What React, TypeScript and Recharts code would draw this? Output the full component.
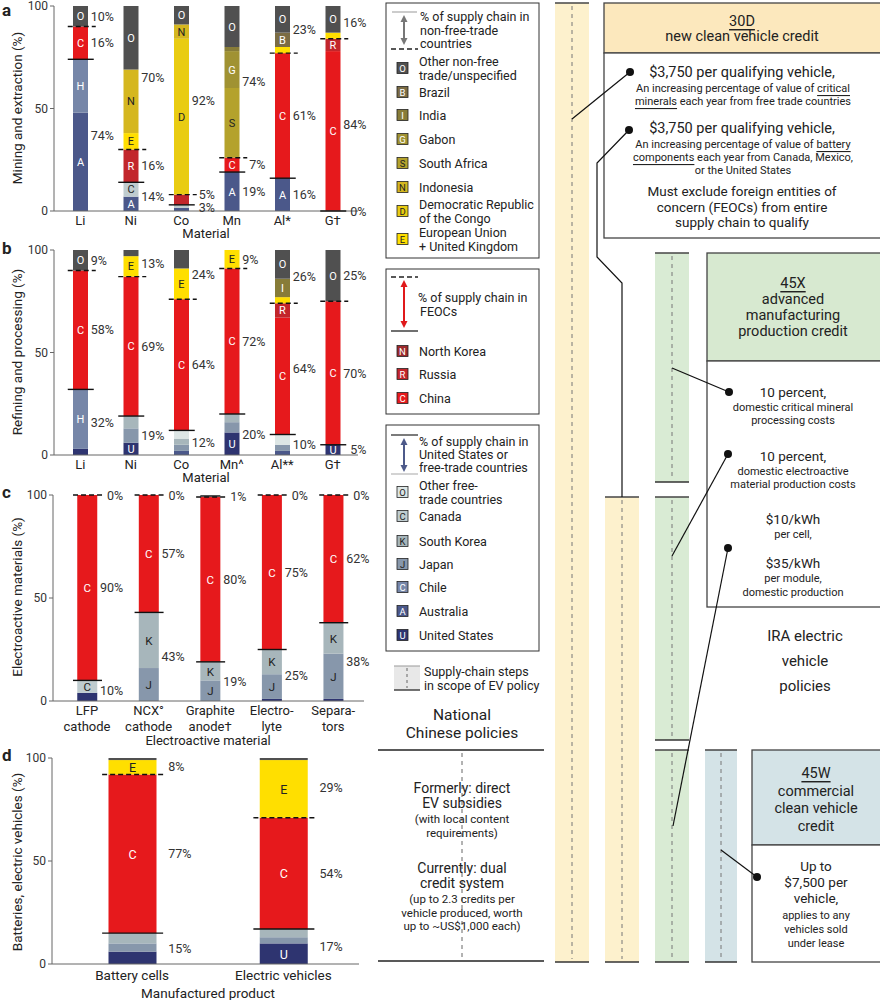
import React from 'react';
import { ComposedChart, Bar, Line, XAxis, YAxis } from 'recharts';

const FONT = "Roboto, 'Liberation Sans', Arial, sans-serif";

// ---------------- Data: panel a (mining and extraction) ----------------
const aCats = ['Li', 'Ni', 'Co', 'Mn', 'Al*', 'G†'];
const aAustralia = [48, 7, 1.5, 19, 16, 0];
const aChile = [26, 0, 0, 0, 0, 0];
const aCanada = [0, 7, 1.5, 0, 0, 0];
const aChina = [16, 0, 0, 7, 61, 78];
const aRussia = [0, 16, 5, 0, 0, 6];
const aEU = [0, 8, 0, 0, 3, 3];
const aDRC = [0, 0, 76, 0, 0, 0];
const aIndonesia = [0, 31, 7, 0, 0, 0];
const aSouthAfrica = [0, 0, 0, 34, 0, 0];
const aGabon = [0, 0, 0, 18, 0, 0];
const aIndia = [0, 0, 0, 2, 0, 0];
const aBrazil = [0, 0, 0, 0, 7, 0];
const aOther = [10, 31, 9, 20, 13, 13];
const aFreeLbl = ['74%', '14%', '3%', '19%', '16%', '0%'];
const aFeocLbl = ['16%', '16%', '5%', '7%', '61%', '84%'];
const aNonLbl = ['10%', '70%', '92%', '74%', '23%', '16%'];

// ---------------- Data: panel b (refining and processing) ----------------
const bCats = ['Li', 'Ni', 'Co', 'Mn^', 'Al**', 'G†'];
const bUS = [3, 6, 0, 11, 0, 5];
const bAustralia = [0, 0, 2, 0, 2, 0];
const bChile = [29, 0, 0, 0, 0, 0];
const bJapan = [0, 7, 3, 5, 3, 0];
const bKorea = [0, 6, 3, 4, 0, 0];
const bOtherFree = [0, 0, 4, 0, 5, 0];
const bChina = [58, 68, 64, 71, 57, 70];
const bRussia = [0, 0, 0, 0, 7, 0];
const bEU = [0, 10, 15, 9, 3, 0];
const bIndia = [0, 0, 0, 0, 9, 0];
const bOther = [10, 3, 9, 0, 14, 25];
const bFreeLbl = ['32%', '19%', '12%', '20%', '10%', '5%'];
const bFeocLbl = ['58%', '69%', '64%', '72%', '64%', '70%'];
const bNonLbl = ['9%', '13%', '24%', '9%', '26%', '25%'];

// ---------------- Data: panel c (electroactive materials) ----------------
const cCats = ['LFP\ncathode', 'NCX°\ncathode', 'Graphite\nanode†', 'Electro-\nlyte', 'Separa-\ntors'];
const cUS = [4, 0, 0, 1, 1];
const cJapan = [0, 16, 10, 12, 22];
const cKorea = [0, 27, 9, 12, 15];
const cCanada = [6, 0, 0, 0, 0];
const cChina = [90, 57, 80, 75, 62];
const cOther = [0, 0, 1, 0, 0];
const cFreeLbl = ['10%', '43%', '19%', '25%', '38%'];
const cFeocLbl = ['90%', '57%', '80%', '75%', '62%'];
const cNonLbl = ['0%', '0%', '1%', '0%', '0%'];

// ---------------- Data: panel d (batteries, electric vehicles) ----------------
const dCats = ['Battery cells', 'Electric vehicles'];
const dUS = [6, 10];
const dJapan = [4, 3];
const dKorea = [5, 4];
const dChina = [77, 54];
const dEU = [7, 28];
const dOther = [1, 1];
const dFreeLbl = ['15%', '17%'];
const dFeocLbl = ['77%', '54%'];
const dNonLbl = ['8%', '29%'];

// ---------------- Series meta ----------------
const FREE_KEYS = ['U', 'A', 'H', 'J', 'K', 'CA', 'OF'];
const FEOC_KEYS = ['C', 'R', 'NK'];
const NON_KEYS = ['E', 'D', 'N', 'S', 'G', 'I', 'B', 'O'];
const STACK_ORDER = [...FREE_KEYS, ...FEOC_KEYS, ...NON_KEYS];

const COLORS: Record<string, string> = {
  U: '#2e3470', A: '#4b588a', H: '#7686a8', J: '#8797ab', K: '#a7b6bb', CA: '#bfcccf', OF: '#dde6e5',
  C: '#e6191c', R: '#c2262b', NK: '#9c2a2c',
  E: '#ffdf00', D: '#e9cc12', N: '#d5b71f', S: '#b4a22c', G: '#a09232', I: '#877c38', B: '#7b6c44', O: '#505050',
};
const LETTERS: Record<string, string> = {
  U: 'U', A: 'A', H: 'H', J: 'J', K: 'K', CA: 'C', OF: 'O', C: 'C', R: 'R', NK: 'N',
  E: 'E', D: 'D', N: 'N', S: 'S', G: 'G', I: 'I', B: 'B', O: 'O',
};
const DARK_TEXT = ['J', 'K', 'CA', 'OF', 'E', 'D', 'N', 'S'];
const HIDDEN_LETTERS = ['a:Co:R', 'b:Ni:J', 'b:Ni:K', 'b:Co:O', 'b:Mn^:J', 'b:Al**:OF', 'd:Battery cells:U', 'd:Battery cells:K'];

function buildRows(cats: string[], series: Record<string, number[]>, free: string[], feoc: string[], non: string[]) {
  return cats.map((name, i) => {
    const row: any = { name };
    Object.keys(series).forEach((k) => { row[k] = series[k][i]; });
    const sum = (keys: string[]) => keys.reduce((s, k) => s + (row[k] || 0), 0);
    const f = sum(FREE_KEYS);
    const c = sum(FEOC_KEYS);
    row.freeTop = f;
    row.feocTop = f + c;
    row.freeMid = f / 2;
    row.feocMid = f < 8 && c < 8 ? f + c : f + c / 2;
    row.nonMid = (f + c + 100) / 2;
    row.freePct = f;
    row.feocPct = c;
    row.nonPct = 100 - f - c;
    row.freeLbl = free[i];
    row.feocLbl = feoc[i];
    row.nonLbl = non[i];
    return row;
  });
}

const aRows = buildRows(aCats, {
  A: aAustralia, H: aChile, CA: aCanada, C: aChina, R: aRussia, E: aEU, D: aDRC,
  N: aIndonesia, S: aSouthAfrica, G: aGabon, I: aIndia, B: aBrazil, O: aOther,
}, aFreeLbl, aFeocLbl, aNonLbl);
const bRows = buildRows(bCats, {
  U: bUS, A: bAustralia, H: bChile, J: bJapan, K: bKorea, OF: bOtherFree, C: bChina, R: bRussia,
  E: bEU, I: bIndia, O: bOther,
}, bFreeLbl, bFeocLbl, bNonLbl);
const cRows = buildRows(cCats, {
  U: cUS, J: cJapan, K: cKorea, CA: cCanada, C: cChina, O: cOther,
}, cFreeLbl, cFeocLbl, cNonLbl);
const dRows = buildRows(dCats, {
  U: dUS, J: dJapan, K: dKorea, C: dChina, E: dEU, O: dOther,
}, dFreeLbl, dFeocLbl, dNonLbl);

const keysOf = (rows: any[]) => STACK_ORDER.filter((k) => rows.some((r) => r[k] !== undefined));

// ---------------- Panel chart ----------------
type PanelProps = {
  id: string; rows: any[]; top: number; marginTop: number; plotH: number; xAxisH: number;
  width: number; marginRight: number; yAxisW: number; padLeft: number; barSize: number; lblGap: number;
  tickFont: number; tickFirst: number; tickLH: number; letterFont: number; lineExt: number;
};

function Panel(p: PanelProps) {
  const half = p.barSize / 2;
  const height = p.marginTop + p.plotH + p.xAxisH;
  const keys = keysOf(p.rows);

  const shape = (key: string) => (sp: any) => {
    const { x, y, width, height: h, payload } = sp;
    if (!h || h <= 0) return <g />;
    const v = payload[key] || 0;
    const show = v >= 5 && !HIDDEN_LETTERS.includes(`${p.id}:${payload.name}:${key}`);
    return (
      <g>
        <rect x={x} y={y} width={width} height={h} fill={COLORS[key]} />
        {show && (
          <text x={x + width / 2} y={y + h / 2 + 0.5} textAnchor="middle" dominantBaseline="central"
            fontSize={p.letterFont} fontFamily={FONT} fill={DARK_TEXT.includes(key) ? '#222' : '#fff'}>
            {LETTERS[key]}
          </text>
        )}
      </g>
    );
  };

  const solid = (sp: any) => (
    <line key={`s${sp.index}`} x1={sp.cx - half - p.lineExt} x2={sp.cx + half + p.lineExt + 1} y1={sp.cy} y2={sp.cy}
      stroke="#111" strokeWidth={1.4} />
  );
  const dashed = (sp: any) => (
    <line key={`d${sp.index}`} x1={sp.cx - half - p.lineExt} x2={sp.cx + half + p.lineExt + 3} y1={sp.cy} y2={sp.cy}
      stroke="#111" strokeWidth={1.4} strokeDasharray="5 3" />
  );
  const label = (field: string, pctField: string) => (sp: any) => {
    const pct = sp.payload[pctField];
    const shift = p.id !== 'd' && pct < 8 ? 7 : 0;
    return (
      <text key={`${field}${sp.index}`} x={sp.cx + half + p.lblGap + shift} y={sp.cy} fontSize={12.5}
        fill="#333" dominantBaseline="central" fontFamily={FONT}>
        {sp.payload[field]}
      </text>
    );
  };

  const tick = (tp: any) => {
    const lines = String(tp.payload.value).split('\n');
    return (
      <g>
        {lines.map((l: string, i: number) => (
          <text key={i} x={tp.x} y={tp.y + p.tickFirst + i * p.tickLH} textAnchor="middle" dominantBaseline="central"
            fontSize={p.tickFont} fill="#222" fontFamily={FONT}>{l}</text>
        ))}
      </g>
    );
  };

  const lineCommon = { stroke: 'none', isAnimationActive: false, activeDot: false, legendType: 'none' as const };

  return (
    <div style={{ position: 'absolute', left: 0, top: p.top }}>
      <ComposedChart width={p.width} height={height} data={p.rows} style={{ overflow: 'visible' }}
        margin={{ top: p.marginTop, right: p.marginRight, bottom: 0, left: 0 }}>
        <XAxis dataKey="name" type="category" height={p.xAxisH} tickLine={false} tickSize={0} tickMargin={0}
          axisLine={{ stroke: '#666' }} interval={0} padding={{ left: p.padLeft, right: 0 }} tick={tick} />
        <YAxis type="number" domain={[0, 100]} ticks={[0, 50, 100]} width={p.yAxisW} tickSize={4} tickMargin={2}
          axisLine={{ stroke: '#666' }} tickLine={{ stroke: '#666' }} interval={0}
          tick={{ fontSize: 12, fill: '#333', fontFamily: FONT }} />
        {keys.map((k) => (
          <Bar key={k} dataKey={k} stackId="s" barSize={p.barSize} isAnimationActive={false} shape={shape(k)} />
        ))}
        <Line dataKey="freeTop" {...lineCommon} dot={solid} />
        <Line dataKey="feocTop" {...lineCommon} dot={dashed} />
        <Line dataKey="freeMid" {...lineCommon} dot={label('freeLbl', 'freePct')} />
        <Line dataKey="feocMid" {...lineCommon} dot={label('feocLbl', 'feocPct')} />
        <Line dataKey="nonMid" {...lineCommon} dot={label('nonLbl', 'nonPct')} />
      </ComposedChart>
    </div>
  );
}

// ---------------- Legend data ----------------
const leg1Keys = ['O', 'B', 'I', 'G', 'S', 'N', 'D', 'E'];
const leg1Text = [['Other non-free', 'trade/unspecified'], ['Brazil'], ['India'], ['Gabon'], ['South Africa'],
  ['Indonesia'], ['Democratic Republic', 'of the Congo'], ['European Union', '+ United Kingdom']];
const leg2Keys = ['NK', 'R', 'C'];
const leg2Text = [['North Korea'], ['Russia'], ['China']];
const leg3Keys = ['OF', 'CA', 'K', 'J', 'H', 'A', 'U'];
const leg3Text = [['Other free-', 'trade countries'], ['Canada'], ['South Korea'], ['Japan'], ['Chile'],
  ['Australia'], ['United States']];

// ---------------- Overlay helpers ----------------
function Txt({ x, y, s = 12.5, a = 'middle', w, fill = '#222', children }: any) {
  return (
    <text x={x} y={y} fontSize={s} textAnchor={a} dominantBaseline="central" fontFamily={FONT}
      fontWeight={w} fill={fill}>{children}</text>
  );
}

function Swatch({ x, y, k }: any) {
  const letter = k === 'H' ? 'C' : LETTERS[k];
  return (
    <g>
      <rect x={x} y={y - 5.5} width={11} height={11} fill={COLORS[k]} stroke="#222" strokeWidth={0.8} />
      <text x={x + 5.5} y={y + 0.5} fontSize={9.5} textAnchor="middle" dominantBaseline="central" fontFamily={FONT}
        fill={DARK_TEXT.includes(k) ? '#222' : '#fff'}>{letter}</text>
    </g>
  );
}

function LegendRows({ keys, texts, ys }: any) {
  return (
    <g>
      {keys.map((k: string, i: number) => {
        const lines = texts[i];
        const y = ys[i];
        return (
          <g key={k + i}>
            <Swatch x={397} y={y} k={k} />
            {lines.map((l: string, j: number) => (
              <Txt key={j} x={419} y={lines.length === 1 ? y : y - 7 + j * 14} a="start" s={12.5}>{l}</Txt>
            ))}
          </g>
        );
      })}
    </g>
  );
}

function Arrow({ x, y1, y2, color }: any) {
  return (
    <g>
      <line x1={x} x2={x} y1={y1 + 5} y2={y2 - 5} stroke={color} strokeWidth={2} />
      <polygon points={`${x - 3.5},${y1 + 7} ${x + 3.5},${y1 + 7} ${x},${y1}`} fill={color} />
      <polygon points={`${x - 3.5},${y2 - 7} ${x + 3.5},${y2 - 7} ${x},${y2}`} fill={color} />
    </g>
  );
}

function Band({ x, y1, y2, fill, w = 34 }: any) {
  return (
    <g>
      <rect x={x} y={y1} width={w} height={y2 - y1} fill={fill} />
      <line x1={x + w / 2} x2={x + w / 2} y1={y1 + 3} y2={y2 - 3} stroke="#777" strokeDasharray="4 4" strokeWidth={1} />
      <line x1={x} x2={x + w} y1={y1} y2={y1} stroke="#444" strokeWidth={1.5} />
      <line x1={x} x2={x + w} y1={y2} y2={y2} stroke="#333" strokeWidth={1.5} />
    </g>
  );
}

function Dot({ x, y }: any) {
  return <circle cx={x} cy={y} r={4} fill="#111" />;
}

const U = ({ children }: any) => <tspan style={{ textDecoration: 'underline' }}>{children}</tspan>;

function Overlay() {
  return (
    <svg width={880} height={1000} style={{ position: 'absolute', left: 0, top: 0 }}>
      {/* panel letters */}
      <Txt x={2} y={10} s={17} a="start" w={700}>a</Txt>
      <Txt x={2} y={248} s={17} a="start" w={700}>b</Txt>
      <Txt x={2} y={492} s={17} a="start" w={700}>c</Txt>
      <Txt x={2} y={755} s={17} a="start" w={700}>d</Txt>

      {/* axis titles */}
      <text transform="translate(17,108) rotate(-90)" fontSize={13.5} textAnchor="middle" dominantBaseline="central" fontFamily={FONT} fill="#222">Mining and extraction (%)</text>
      <text transform="translate(17,352) rotate(-90)" fontSize={13.5} textAnchor="middle" dominantBaseline="central" fontFamily={FONT} fill="#222">Refining and processing (%)</text>
      <text transform="translate(17,597) rotate(-90)" fontSize={13.5} textAnchor="middle" dominantBaseline="central" fontFamily={FONT} fill="#222">Electroactive materials (%)</text>
      <text transform="translate(17,862) rotate(-90)" fontSize={13.5} textAnchor="middle" dominantBaseline="central" fontFamily={FONT} fill="#222">Batteries, electric vehicles (%)</text>
      <Txt x={206} y={233} s={13}>Material</Txt>
      <Txt x={206} y={477} s={13}>Material</Txt>
      <Txt x={208} y={740} s={13}>Electroactive material</Txt>
      <Txt x={208} y={993} s={13.5}>Manufactured product</Txt>

      {/* legend box 1 */}
      <rect x={386} y={3} width={153} height={255} fill="#fff" stroke="#333" strokeWidth={1} />
      <line x1={392} x2={417} y1={12} y2={12} stroke="#999" strokeWidth={1} />
      <Arrow x={404} y1={15} y2={45} color="#777" />
      <line x1={391} x2={418} y1={49} y2={49} stroke="#222" strokeWidth={1.3} strokeDasharray="5 3" />
      <Txt x={420} y={16} a="start">% of supply chain in</Txt>
      <Txt x={420} y={30} a="start">non-free-trade</Txt>
      <Txt x={420} y={43} a="start">countries</Txt>
      <LegendRows keys={leg1Keys} texts={leg1Text} ys={[68, 92, 115, 139, 163, 187, 211, 239]} />

      {/* legend box 2 */}
      <rect x={386} y={269} width={153} height={145} fill="#fff" stroke="#333" strokeWidth={1} />
      <line x1={391} x2={418} y1={277} y2={277} stroke="#222" strokeWidth={1.3} strokeDasharray="5 3" />
      <Arrow x={404} y1={280} y2={328} color="#e0191b" />
      <line x1={391} x2={418} y1={331} y2={331} stroke="#222" strokeWidth={1.3} />
      <Txt x={418} y={297} a="start">% of supply chain in</Txt>
      <Txt x={420} y={311} a="start">FEOCs</Txt>
      <LegendRows keys={leg2Keys} texts={leg2Text} ys={[351, 374, 398]} />

      {/* legend box 3 */}
      <rect x={386} y={425} width={153} height={226} fill="#fff" stroke="#333" strokeWidth={1} />
      <line x1={391} x2={418} y1={435} y2={435} stroke="#333" strokeWidth={1.3} />
      <Arrow x={404} y1={438} y2={472} color="#4d5a8a" />
      <line x1={391} x2={418} y1={474} y2={474} stroke="#bbb" strokeWidth={1.3} />
      <Txt x={419} y={441} a="start">% of supply chain in</Txt>
      <Txt x={419} y={454} a="start">United States or</Txt>
      <Txt x={419} y={467} a="start">free-trade countries</Txt>
      <LegendRows keys={leg3Keys} texts={leg3Text} ys={[492, 516, 541, 564, 587, 611, 635]} />

      {/* supply chain steps key */}
      <rect x={394} y={666} width={26} height={24} fill="#e8e8e8" />
      <line x1={394} x2={420} y1={666} y2={666} stroke="#999" strokeWidth={1} />
      <line x1={394} x2={420} y1={690} y2={690} stroke="#444" strokeWidth={1.5} />
      <line x1={407} x2={407} y1={668} y2={688} stroke="#666" strokeDasharray="3 3" />
      <Txt x={424} y={671} a="start">Supply-chain steps</Txt>
      <Txt x={424} y={685} a="start">in scope of EV policy</Txt>

      {/* national chinese policies */}
      <Txt x={462} y={715} s={15.5}>National</Txt>
      <Txt x={462} y={733} s={15.5}>Chinese policies</Txt>
      <line x1={378} x2={544} y1={750} y2={750} stroke="#222" strokeWidth={1.3} />
      <line x1={462} x2={462} y1={753} y2={958} stroke="#666" strokeDasharray="4 4" />
      <Txt x={462} y={788} s={14}>Formerly: direct</Txt>
      <Txt x={462} y={803} s={14}>EV subsidies</Txt>
      <Txt x={462} y={819} s={11.5}>(with local content</Txt>
      <Txt x={462} y={833} s={11.5}>requirements)</Txt>
      <Txt x={462} y={868} s={14}>Currently: dual</Txt>
      <Txt x={462} y={883} s={14}>credit system</Txt>
      <Txt x={462} y={899} s={11.5}>(up to 2.3 credits per</Txt>
      <Txt x={462} y={913} s={11.5}>vehicle produced, worth</Txt>
      <Txt x={462} y={926} s={11.5}>up to ~US$1,000 each)</Txt>
      <line x1={378} x2={544} y1={961} y2={961} stroke="#222" strokeWidth={1.3} />

      {/* policy bands */}
      <Band x={555} y1={3} y2={962} fill="#fdf1cd" />
      <Band x={605} y1={497} y2={962} fill="#fdf1cd" />
      <Band x={655} y1={253} y2={482} fill="#d9ebd4" />
      <Band x={655} y1={497} y2={740} fill="#d9ebd4" />
      <Band x={655} y1={750} y2={962} fill="#d9ebd4" />
      <Band x={705} y1={750} y2={962} fill="#d4e3e7" w={32} />

      {/* 30D */}
      <rect x={604} y={3} width={280} height={50} fill="#fce8bd" stroke="#444" strokeWidth={1.3} />
      <Txt x={742} y={21} s={14.5}><U>30D</U></Txt>
      <Txt x={742} y={36} s={14.5}>new clean vehicle credit</Txt>
      <rect x={604} y={53} width={280} height={185} fill="#fff" stroke="#444" strokeWidth={1.3} />
      <Txt x={742} y={72} s={14.5}>$3,750 per qualifying vehicle,</Txt>
      <Txt x={743} y={88} s={11}>An increasing percentage of value of <U>critical</U></Txt>
      <Txt x={743} y={101} s={11}><U>minerals</U> each year from free trade countries</Txt>
      <Txt x={742} y={128} s={14.5}>$3,750 per qualifying vehicle,</Txt>
      <Txt x={743} y={144} s={11}>An increasing percentage of value of <U>battery</U></Txt>
      <Txt x={743} y={157} s={11}><U>components</U> each year from Canada, Mexico,</Txt>
      <Txt x={743} y={170} s={11}>or the United States</Txt>
      <Txt x={742} y={191} s={13.5}>Must exclude foreign entities of</Txt>
      <Txt x={742} y={207} s={13.5}>concern (FEOCs) from entire</Txt>
      <Txt x={742} y={222} s={13.5}>supply chain to qualify</Txt>

      {/* 45X */}
      <rect x={707} y={253} width={177} height={108} fill="#d7e9d0" stroke="#444" strokeWidth={1.3} />
      <Txt x={793} y={283} s={14.5}><U>45X</U></Txt>
      <Txt x={793} y={299} s={14.5}>advanced</Txt>
      <Txt x={793} y={315} s={14.5}>manufacturing</Txt>
      <Txt x={793} y={331} s={14.5}>production credit</Txt>
      <rect x={707} y={361} width={177} height={246} fill="#fff" stroke="#444" strokeWidth={1.3} />
      <Txt x={793} y={392} s={13.5}>10 percent,</Txt>
      <Txt x={793} y={407} s={11}>domestic critical mineral</Txt>
      <Txt x={793} y={420} s={11}>processing costs</Txt>
      <Txt x={793} y={456} s={13.5}>10 percent,</Txt>
      <Txt x={793} y={471} s={11}>domestic electroactive</Txt>
      <Txt x={793} y={484} s={11}>material production costs</Txt>
      <Txt x={793} y={519} s={13.5}>$10/kWh</Txt>
      <Txt x={793} y={534} s={11}>per cell,</Txt>
      <Txt x={793} y={563} s={13.5}>$35/kWh</Txt>
      <Txt x={793} y={578} s={11}>per module,</Txt>
      <Txt x={793} y={592} s={11}>domestic production</Txt>

      <Txt x={805} y={636} s={15}>IRA electric</Txt>
      <Txt x={805} y={661} s={15}>vehicle</Txt>
      <Txt x={805} y={686} s={15}>policies</Txt>

      {/* 45W */}
      <rect x={752} y={750} width={132} height={95} fill="#d4e3e7" stroke="#444" strokeWidth={1.3} />
      <Txt x={816} y={773} s={14.5}><U>45W</U></Txt>
      <Txt x={816} y={791} s={14.5}>commercial</Txt>
      <Txt x={816} y={808} s={14.5}>clean vehicle</Txt>
      <Txt x={816} y={826} s={14.5}>credit</Txt>
      <rect x={752} y={845} width={132} height={117} fill="#fff" stroke="#444" strokeWidth={1.3} />
      <Txt x={816} y={866} s={13.5}>Up to</Txt>
      <Txt x={816} y={882} s={13.5}>$7,500 per</Txt>
      <Txt x={816} y={898} s={13.5}>vehicle,</Txt>
      <Txt x={816} y={915} s={11}>applies to any</Txt>
      <Txt x={816} y={929} s={11}>vehicles sold</Txt>
      <Txt x={816} y={943} s={11}>under lease</Txt>

      {/* connectors */}
      <g stroke="#111" strokeWidth={1.2} fill="none">
        <polyline points="630,72 572,119" />
        <polyline points="629,130 597,163 597,257 622,283 622,497" />
        <polyline points="729,392 672,368" />
        <polyline points="728,454 672,556" />
        <polyline points="728,548 673,826" />
        <polyline points="757,877 721,850" />
      </g>
      <Dot x={630} y={72} />
      <Dot x={629} y={130} />
      <Dot x={729} y={392} />
      <Dot x={728} y={454} />
      <Dot x={728} y={548} />
      <Dot x={757} y={877} />
    </svg>
  );
}

export default function App() {
  return (
    <div style={{ position: 'absolute', left: 0, top: 0, width: 880, height: 1000, background: '#fff', overflow: 'hidden', fontFamily: FONT }}>
      <Overlay />
      <Panel id="a" rows={aRows} top={0} marginTop={6} plotH={205} xAxisH={32} width={380} marginRight={22} yAxisW={54} padLeft={1}
        barSize={15} lblGap={3} tickFont={13} tickFirst={9} tickLH={16} letterFont={11} lineExt={5} />
      <Panel id="b" rows={bRows} top={238} marginTop={12} plotH={205} xAxisH={32} width={380} marginRight={22} yAxisW={54} padLeft={1}
        barSize={15} lblGap={3} tickFont={13} tickFirst={9} tickLH={16} letterFont={11} lineExt={5} />
      <Panel id="c" rows={cRows} top={484} marginTop={11} plotH={206} xAxisH={50} width={384} marginRight={20} yAxisW={53} padLeft={3.25}
        barSize={20} lblGap={3} tickFont={13} tickFirst={9} tickLH={16} letterFont={11.5} lineExt={4} />
      <Panel id="d" rows={dRows} top={746} marginTop={12} plotH={206} xAxisH={34} width={369} marginRight={10} yAxisW={52} padLeft={4.5}
        barSize={48} lblGap={12} tickFont={13.5} tickFirst={11} tickLH={16} letterFont={12.5} lineExt={6} />
    </div>
  );
}
